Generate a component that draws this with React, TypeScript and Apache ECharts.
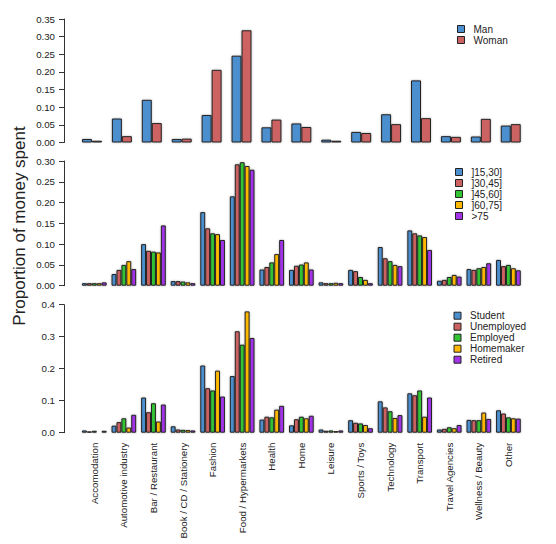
import React, { useEffect, useRef } from "react";
import * as echarts from "echarts";

const categories = [
  "Accomodation", "Automotive industry", "Bar / Restaurant", "Book / CD / Stationery",
  "Fashion", "Food / Hypermarkets", "Health", "Home", "Leisure", "Sports / Toys",
  "Technology", "Transport", "Travel Agencies", "Wellness / Beauty", "Other",
];

const genderNames = ["Man", "Woman"];
const man = [0.010, 0.068, 0.121, 0.010, 0.078, 0.246, 0.043, 0.054, 0.008, 0.030, 0.080, 0.176, 0.018, 0.017, 0.048];
const woman = [0.005, 0.018, 0.055, 0.011, 0.206, 0.318, 0.065, 0.044, 0.005, 0.027, 0.052, 0.069, 0.016, 0.067, 0.052];

const ageNames = ["]15,30]", "]30,45]", "]45,60]", "]60,75]", ">75"];
const age15to30 = [0.006, 0.028, 0.100, 0.011, 0.177, 0.215, 0.039, 0.038, 0.008, 0.038, 0.093, 0.133, 0.012, 0.040, 0.062];
const age30to45 = [0.006, 0.038, 0.084, 0.011, 0.138, 0.292, 0.045, 0.048, 0.006, 0.035, 0.066, 0.126, 0.014, 0.038, 0.047];
const age45to60 = [0.006, 0.050, 0.082, 0.010, 0.126, 0.297, 0.056, 0.051, 0.006, 0.021, 0.059, 0.121, 0.021, 0.042, 0.050];
const age60to75 = [0.006, 0.059, 0.080, 0.008, 0.124, 0.288, 0.076, 0.056, 0.007, 0.014, 0.050, 0.117, 0.026, 0.045, 0.042];
const ageOver75 = [0.008, 0.040, 0.145, 0.006, 0.110, 0.279, 0.110, 0.039, 0.006, 0.006, 0.047, 0.086, 0.022, 0.054, 0.037];

const jobNames = ["Student", "Unemployed", "Employed", "Homemaker", "Retired"];
const student = [0.007, 0.022, 0.110, 0.020, 0.210, 0.177, 0.041, 0.023, 0.010, 0.039, 0.098, 0.123, 0.010, 0.040, 0.070];
const unemployed = [0.004, 0.033, 0.064, 0.010, 0.139, 0.317, 0.050, 0.042, 0.006, 0.031, 0.079, 0.117, 0.012, 0.039, 0.060];
const employed = [0.006, 0.045, 0.092, 0.009, 0.132, 0.275, 0.048, 0.050, 0.007, 0.029, 0.067, 0.132, 0.017, 0.039, 0.048];
const homemaker = [0.003, 0.016, 0.035, 0.008, 0.194, 0.379, 0.072, 0.045, 0.005, 0.024, 0.046, 0.050, 0.014, 0.063, 0.045];
const retired = [0.006, 0.056, 0.088, 0.007, 0.113, 0.296, 0.084, 0.053, 0.007, 0.014, 0.055, 0.110, 0.024, 0.043, 0.044];

const palette = ["#4b8fcf", "#cd6262", "#33c433", "#ffb800", "#a233e8"];
const FONT = "Liberation Sans, Arial, Helvetica, sans-serif";
const TEXT = "#222";

export default function App() {
  const ref = useRef<HTMLDivElement>(null);

  useEffect(() => {
    document.body.style.margin = "0";
    if (!ref.current) return;
    const chart = echarts.init(ref.current, null, { renderer: "svg" });

    const panels = [
      { names: genderNames, data: [man, woman], max: 0.35, interval: 0.05, digits: 2,
        grid: { left: 77, top: 19, width: 448.7, height: 123.5 }, offset: 13, gap: "33.33%",
        legend: { left: 457, top: 23.5 } },
      { names: ageNames, data: [age15to30, age30to45, age45to60, age60to75, ageOver75], max: 0.30, interval: 0.05, digits: 2,
        grid: { left: 79.5, top: 161, width: 443.7, height: 124.7 }, offset: 15.5, gap: "16.67%",
        legend: { left: 455, top: 166.5 } },
      { names: jobNames, data: [student, unemployed, employed, homemaker, retired], max: 0.4, interval: 0.1, digits: 1,
        grid: { left: 79.5, top: 304.7, width: 443.7, height: 128 }, offset: 15.5, gap: "16.67%",
        legend: { left: 453.5, top: 310.2 } },
    ];

    const grid: any[] = [];
    const xAxis: any[] = [];
    const yAxis: any[] = [];
    const series: any[] = [];
    const legend: any[] = [];

    panels.forEach((p, i) => {
      grid.push({ ...p.grid, containLabel: false });
      xAxis.push({
        type: "category",
        gridIndex: i,
        data: categories,
        axisLine: { show: false },
        axisTick: { show: false },
        axisLabel: i === 2
          ? { show: true, rotate: 90, interval: 0, margin: 10, fontSize: 9.7, color: TEXT, fontFamily: FONT }
          : { show: false },
        splitLine: { show: false },
      });
      yAxis.push({
        type: "value",
        gridIndex: i,
        min: 0,
        max: p.max,
        interval: p.interval,
        offset: p.offset,
        axisLine: { show: true, lineStyle: { color: "#333", width: 1 } },
        axisTick: { show: true, length: 5, lineStyle: { color: "#333" } },
        axisLabel: {
          margin: 9,
          fontSize: 9.7,
          color: TEXT,
          fontFamily: FONT,
          formatter: (v: number) => v.toFixed(p.digits),
        },
        splitLine: { show: false },
      });
      p.names.forEach((name, k) => {
        series.push({
          type: "bar",
          name,
          xAxisIndex: i,
          yAxisIndex: i,
          data: p.data[k],
          barGap: "0%",
          barCategoryGap: p.gap,
          itemStyle: {
            color: palette[k],
            borderColor: "#222",
            borderWidth: 1,
            shadowColor: "rgba(0,0,0,0.3)",
            shadowBlur: 2,
          },
        });
      });
      legend.push({
        data: p.names,
        orient: "vertical",
        left: p.legend.left,
        top: p.legend.top,
        icon: "rect",
        itemWidth: 7,
        itemHeight: 7,
        itemGap: 0,
        padding: 0,
        selectedMode: false,
        itemStyle: { borderColor: "#222", borderWidth: 1 },
        textStyle: { fontSize: 10, lineHeight: 11, color: TEXT, fontFamily: FONT, padding: [0, 0, 0, 4] },
      });
    });

    chart.setOption({
      animation: false,
      backgroundColor: "#fff",
      textStyle: { fontFamily: FONT },
      grid,
      xAxis,
      yAxis,
      series,
      legend,
      graphic: [
        {
          type: "text",
          x: 19,
          y: 226,
          rotation: Math.PI / 2,
          style: {
            text: "Proportion of money spent",
            fontSize: 17,
            fontFamily: FONT,
            fill: TEXT,
            textAlign: "center",
            textVerticalAlign: "middle",
          },
        },
      ],
    });

    return () => chart.dispose();
  }, []);

  return <div ref={ref} style={{ width: 556, height: 544 }} />;
}
